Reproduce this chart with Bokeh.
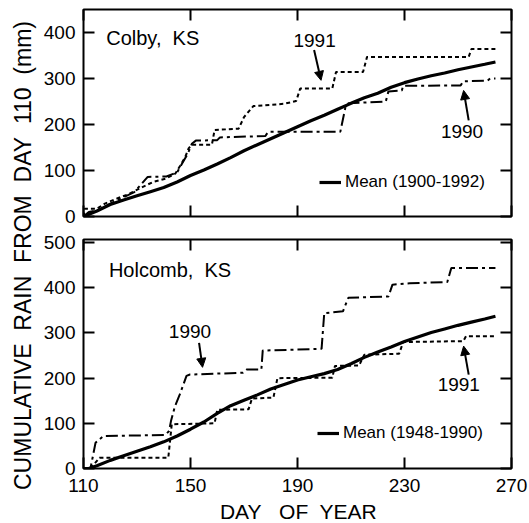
import math
from bokeh.plotting import figure
from bokeh.models import (Range1d, LinearAxis, FixedTicker, Label, Arrow,
                          NormalHead, Legend, LegendItem)
from bokeh.layouts import row, column
from bokeh.embed import file_html
from bokeh.resources import INLINE

# ---------------- data ----------------
x_ticks = [110, 150, 190, 230, 270]
y_ticks_top = [0, 100, 200, 300, 400]
y_ticks_bot = [0, 100, 200, 300, 400, 500]

# Colby, KS
days_mean_top = [110, 115, 120, 125, 130, 135, 140, 145, 150, 155, 160, 165, 170,
                 175, 180, 185, 190, 195, 200, 205, 210, 215, 220, 225, 230, 235,
                 240, 245, 250, 255, 260, 264]
mean_top = [0, 12, 26, 36, 45, 54, 63, 75, 89, 101, 114, 128, 143, 156, 169, 182,
            195, 208, 220, 233, 246, 258, 268, 281, 291, 299, 306, 312, 319, 325,
            331, 336]
days_1990_top = [110, 112, 116, 120, 125, 129, 134, 141, 145, 149, 150.5, 152, 160,
                 161, 178, 179, 206, 208, 209, 223, 224, 229, 229.5, 251, 252, 261,
                 262, 264]
rain_1990_top = [0, 10, 14, 28, 42, 53, 86, 87, 96, 137, 158, 165, 166, 172, 175,
                 184, 184, 240, 246, 250, 272, 274, 284, 285, 294, 295, 300, 300]
days_1991_top = [110, 110.5, 115, 118, 122, 127, 132, 136, 140.6, 144.3, 146.2, 148,
                 149.3, 150.5, 158, 159, 168, 170, 173.5, 185, 189.5, 191, 203,
                 204.4, 214.5, 216, 254, 255, 264]
rain_1991_top = [0, 17, 17, 28, 38, 49, 64, 75, 82, 93, 111, 129, 148, 156, 156, 188,
                 191, 216, 240, 245, 251, 278, 278, 314, 314, 347, 347, 364, 364]

# Holcomb, KS
days_mean_bot = [110, 112, 115, 120, 125, 130, 135, 140, 145, 150, 155, 160, 165,
                 170, 175, 180, 185, 190, 195, 200, 205, 210, 215, 220, 225, 230,
                 235, 240, 245, 250, 255, 260, 264]
mean_bot = [0, 0, 6, 18, 28, 38, 48, 59, 72, 87, 103, 122, 139, 151, 163, 176, 186,
            196, 203, 210, 219, 232, 246, 258, 269, 281, 291, 301, 309, 317, 324,
            331, 337]
days_1990_bot = [110, 112.6, 114.5, 117.5, 140.5, 142, 142.7, 144.2, 146, 148.5,
                 149.8, 169.6, 171, 176.5, 177, 199, 200, 207, 209, 224, 225.5, 232,
                 246, 247.5, 264]
rain_1990_bot = [0, 0, 57, 72, 74, 83, 105, 138, 164, 205, 208, 212, 219, 219, 261,
                 265, 344, 348, 378, 381, 407, 410, 413, 444, 444]
days_1991_bot = [110, 112.6, 116, 141.7, 143, 159, 160, 171.7, 173, 181, 182.5, 203,
                 204, 213, 215, 228, 229.5, 252, 253, 264]
rain_1991_bot = [0, 0, 24, 24, 98, 100, 130, 131, 155, 157, 200, 201, 227, 228, 252,
                 254, 280, 282, 293, 293]

FONT = "Liberation Sans"
TICK_FS = "19px"
DASH_1990 = "12 4 3 4"
DASH_1991 = "4 3"
NB = "\u00a0"


def cfg_axis(ax, ticks, labels):
    ax.ticker = FixedTicker(ticks=ticks)
    ax.major_tick_in = 11
    ax.major_tick_out = 0
    ax.major_tick_line_width = 2
    ax.major_tick_line_color = "black"
    ax.minor_tick_line_color = None
    ax.axis_line_color = None
    if labels:
        ax.major_label_text_font = FONT
        ax.major_label_text_font_size = TICK_FS
        ax.major_label_text_color = "black"
        ax.major_label_standoff = 8
    else:
        ax.major_label_text_font_size = "1px"
        ax.major_label_text_color = None
        ax.major_label_standoff = 0


def make_panel(height, ymax, yticks, border_top, border_bottom, xlabels):
    p = figure(width=489, height=height, x_range=Range1d(110, 270),
               y_range=Range1d(0, ymax), output_backend="svg",
               toolbar_location=None, min_border_left=41, min_border_right=18,
               min_border_top=border_top, min_border_bottom=border_bottom)
    p.grid.visible = False
    p.outline_line_color = "black"
    p.outline_line_width = 2
    p.background_fill_color = "white"
    p.border_fill_color = "white"
    bx = p.below[0]
    ly = p.left[0]
    cfg_axis(bx, x_ticks, xlabels)
    cfg_axis(ly, yticks, True)
    ra = LinearAxis()
    cfg_axis(ra, yticks, False)
    p.add_layout(ra, "right")
    ta = LinearAxis()
    cfg_axis(ta, x_ticks, False)
    p.add_layout(ta, "above")
    return p, bx


def add_text(p, x, y, txt, size, align="left"):
    p.add_layout(Label(x=x, y=y, text=txt, text_font=FONT, text_font_size=size,
                       text_align=align, text_baseline="middle", text_color="black"))


def add_arrow(p, x0, y0, x1, y1):
    p.add_layout(Arrow(end=NormalHead(size=9, fill_color="black", line_color="black",
                                      line_width=1),
                       x_start=x0, y_start=y0, x_end=x1, y_end=y1,
                       line_width=2, line_color="black"))


def add_legend(p, r, txt, loc):
    leg = Legend(items=[LegendItem(label=txt, renderers=[r])], location=loc,
                 padding=0, margin=0, spacing=0, glyph_width=22, glyph_height=20,
                 label_standoff=4, label_text_font=FONT, label_text_font_size="17px",
                 label_text_color="black",
                 border_line_color=None, background_fill_alpha=0)
    p.add_layout(leg, "center")


def text_strip(width, height, x, y, txt, size, angle=0.0, baseline="middle"):
    f = figure(width=width, height=height, x_range=Range1d(0, 1),
               y_range=Range1d(0, 1), output_backend="svg", toolbar_location=None,
               min_border=0, x_axis_location=None, y_axis_location=None)
    f.grid.visible = False
    f.outline_line_color = None
    f.add_layout(Label(x=x, y=y, x_units="screen", y_units="screen", text=txt,
                       angle=angle, text_font=FONT, text_font_size=size,
                       text_align="center", text_baseline=baseline,
                       text_color="black"))
    return f


# ---------------- top panel ----------------
top, _ = make_panel(227, 450, y_ticks_top, 9, 11, False)
r_mean_top = top.line(days_mean_top, mean_top, line_color="black", line_width=3.2)
top.line(days_1990_top, rain_1990_top, line_color="black", line_width=2,
         line_dash=DASH_1990)
top.line(days_1991_top, rain_1991_top, line_color="black", line_width=2,
         line_dash=DASH_1991)
add_text(top, 118.5, 387, "Colby," + NB + " KS", "20px")
add_text(top, 196.4, 383, "1991", "19px", "center")
add_arrow(top, 196.2, 362, 198.8, 296)
add_text(top, 251.5, 184, "1990", "19px", "center")
add_arrow(top, 254, 209, 252.1, 274)
add_legend(top, r_mean_top, "Mean (1900-1992)", (236, 24))

# ---------------- bottom panel ----------------
bot, bot_x = make_panel(274, 507, y_ticks_bot, 12, 33, True)
bot_x.major_label_standoff = 10
r_mean_bot = bot.line(days_mean_bot, mean_bot, line_color="black", line_width=3.2)
bot.line(days_1990_bot, rain_1990_bot, line_color="black", line_width=2,
         line_dash=DASH_1990)
bot.line(days_1991_bot, rain_1991_bot, line_color="black", line_width=2,
         line_dash=DASH_1991)
add_text(bot, 119.5, 440, "Holcomb," + NB + " KS", "20px")
add_text(bot, 149.8, 303, "1990", "19px", "center")
add_arrow(bot, 153.2, 278, 154.5, 224)
add_text(bot, 250.3, 185, "1991", "19px", "center")
add_arrow(bot, 254, 208, 252.1, 271)
add_legend(bot, r_mean_bot, "Mean (1948-1990)", (234, 25))

# ---------------- shared axis titles ----------------
# (the strip's frame is aligned with the panels' frames inside the column)
xlab = text_strip(489, 22, 215, 1, "DAY" + NB + NB + " OF" + NB + " YEAR", "21px",
                  baseline="bottom")
ylabel = (NB + " ").join(["CUMULATIVE", "RAIN", "FROM", "DAY", "110", "(mm)"])
ylab = text_strip(40, 523, 22, 268, ylabel, "23px", angle=math.pi / 2)

layout = row(ylab, column(top, bot, xlab))
open("out.html", "w").write(file_html(layout, INLINE))
